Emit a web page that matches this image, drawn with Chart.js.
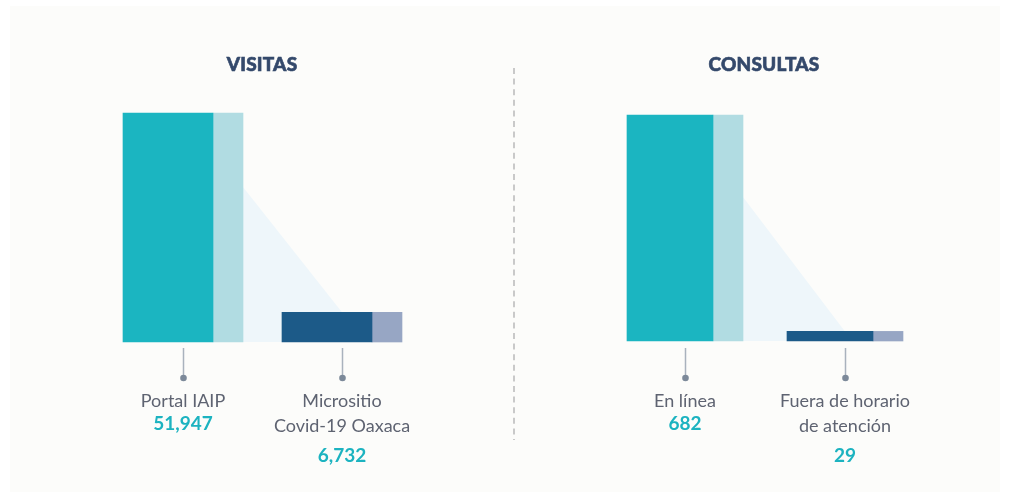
<!DOCTYPE html>
<html>
<head>
<meta charset="utf-8">
<script src="https://cdn.jsdelivr.net/npm/chart.js@4.4.0/dist/chart.umd.min.js"></script>
<style>
  html, body { margin: 0; padding: 0; background: #ffffff; }
  #wrap { position: relative; width: 1010px; height: 498px; overflow: hidden; }
  #panel { position: absolute; left: 10px; top: 6px; width: 990px; height: 486px; background: #fcfcfa; }
  #c { position: absolute; left: 0; top: 0; }
  .t { position: absolute; transform: translate(-50%, -50%); white-space: nowrap; font-family: Lato, "Open Sans", sans-serif; }
  .title { font-size: 19px; font-weight: 900; color: #34496b; letter-spacing: 0.2px; -webkit-text-stroke: 0.6px #34496b; }
  .lab { font-size: 18px; color: #5e6371; line-height: 20px; }
  .val { font-size: 19px; font-weight: 700; color: #1cb3c0; line-height: 20px; }
</style>
</head>
<body>
<div id="wrap">
  <div id="panel"></div>
  <canvas id="c" width="1010" height="498"></canvas>
</div>
<script>
// ---- data ----
const panelTitles = ['VISITAS', 'CONSULTAS'];
const visitasCategories = [['Portal IAIP'], ['Micrositio', 'Covid-19 Oaxaca']];
const visitasValues = [51947, 6732];
const consultasCategories = [['En línea'], ['Fuera de horario', 'de atención']];
const consultasValues = [682, 29];

// ---- layout (pixels) ----
const W = 1010, H = 498;
const panels = [
  { title: panelTitles[0], cats: visitasCategories, vals: visitasValues, axis: 'y',
    base: 342, top: 113, titleX: 262,
    mainX: [123, 282], mainW: 90, sideW: 30, shadowFrac: 0.677,
    colors: ['#1bb5c1', '#1c5a88'], sideColors: ['#b1dce2', '#97a6c4'] },
  { title: panelTitles[1], cats: consultasCategories, vals: consultasValues, axis: 'y2',
    base: 341, top: 115, titleX: 764,
    mainX: [627, 787], mainW: 86, sideW: 30, shadowFrac: 0.637,
    colors: ['#1bb5c1', '#1c5a88'], sideColors: ['#b1dce2', '#97a6c4'] }
];

function axisRange(p) {
  const k = (p.base - p.top) / p.vals[0];
  return { min: -(H - p.base) / k, max: p.base / k };
}

const datasets = [];
const scales = {
  x: { type: 'linear', min: 0, max: W, display: false, offset: false }
};
panels.forEach((p) => {
  const r = axisRange(p);
  scales[p.axis] = { type: 'linear', min: r.min, max: r.max, display: false };
  const mainC = p.mainX.map(x => x + p.mainW / 2);
  const sideC = p.mainX.map(x => x + p.mainW + p.sideW / 2);
  p.labelX = p.mainX.map(x => x + (p.mainW + p.sideW) / 2);
  datasets.push({
    type: 'bar', label: p.title + ' main', yAxisID: p.axis, grouped: false,
    barThickness: p.mainW, borderWidth: 0, order: 1,
    data: p.vals.map((v, i) => ({ x: mainC[i], y: v })),
    backgroundColor: p.colors
  });
  datasets.push({
    type: 'bar', label: p.title + ' side', yAxisID: p.axis, grouped: false,
    barThickness: p.sideW, borderWidth: 0, order: 1,
    data: p.vals.map((v, i) => ({ x: sideC[i], y: v })),
    backgroundColor: p.sideColors
  });
  const sx0 = p.mainX[0] + p.mainW + p.sideW;
  datasets.push({
    type: 'line', label: p.title + ' shadow', yAxisID: p.axis, order: 5,
    data: [{ x: sx0, y: p.vals[0] * p.shadowFrac }, { x: p.labelX[1], y: p.vals[1] }],
    borderWidth: 0, pointRadius: 0, tension: 0,
    backgroundColor: '#eef6fa', borderColor: 'rgba(0,0,0,0)',
    fill: { target: { value: 0 } }
  });
});

const decor = {
  id: 'decor',
  afterDatasetsDraw(chart) {
    const ctx = chart.ctx;
    const xs = chart.scales.x;
    ctx.save();
    panels.forEach(p => {
      p.labelX.forEach(lx => {
        const px = Math.round(xs.getPixelForValue(lx)) + 0.5;
        ctx.strokeStyle = '#a9b2bd';
        ctx.lineWidth = 1.5;
        ctx.beginPath(); ctx.moveTo(px, 348); ctx.lineTo(px, 376); ctx.stroke();
        ctx.fillStyle = '#7c8999';
        ctx.beginPath(); ctx.arc(px, 378, 3.3, 0, Math.PI * 2); ctx.fill();
      });
    });
    ctx.strokeStyle = '#c9c9c9';
    ctx.lineWidth = 2;
    ctx.setLineDash([6, 4.6]);
    ctx.beginPath(); ctx.moveTo(514, 68); ctx.lineTo(514, 440); ctx.stroke();
    ctx.restore();
  }
};

new Chart(document.getElementById('c'), {
  type: 'bar',
  data: { datasets },
  options: {
    responsive: false, animation: false, devicePixelRatio: 1,
    layout: { padding: 0 },
    plugins: { legend: { display: false }, tooltip: { enabled: false } },
    scales
  },
  plugins: [decor]
});

// ---- text ----
const wrap = document.getElementById('wrap');
function addText(cls, txt, x, y) {
  const d = document.createElement('div');
  d.className = 't ' + cls;
  d.textContent = txt;
  d.style.left = x + 'px';
  d.style.top = y + 'px';
  wrap.appendChild(d);
}
panels.forEach(p => {
  addText('title', p.title, p.titleX, 63);
  p.cats.forEach((lines, i) => {
    const cx = p.labelX[i];
    lines.forEach((ln, j) => addText('lab', ln, cx, 400 + j * 25));
    const vy = lines.length === 1 ? 423 : 455;
    addText('val', p.vals[i].toLocaleString('en-US'), cx, vy);
  });
});
</script>
</body>
</html>
